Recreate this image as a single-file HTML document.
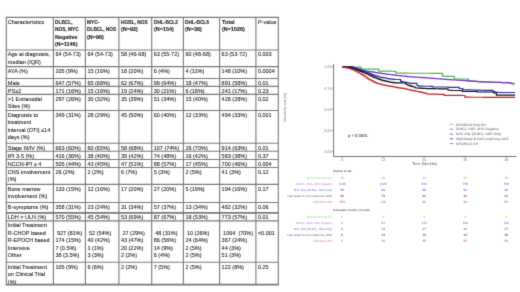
<!DOCTYPE html>
<html><head><meta charset="utf-8"><style>
html,body{margin:0;padding:0;background:#fff;}
body{width:520px;height:292px;position:relative;overflow:hidden;font-family:"Liberation Sans",sans-serif;}
.wrap{position:absolute;left:0;top:0;width:520px;height:292px;background:#fff;filter:url(#bl);}
.t{position:absolute;font-size:5.5px;line-height:7.5px;color:#1c1c1c;white-space:nowrap;-webkit-text-stroke:0.08px #1c1c1c;}
.b{font-weight:bold;transform-origin:0 0;-webkit-text-stroke:0.12px #1c1c1c;}
.vl{position:absolute;width:1px;background:#6a6a6a;}
.hl{position:absolute;height:1px;background:#6a6a6a;}
.ch{position:absolute;left:0;top:0;}
.ch text{font-family:"Liberation Sans",sans-serif;text-rendering:geometricPrecision;}
.tk{font-size:3.8px;fill:#808080;}
.pv{font-size:4.2px;fill:#111;}
.lg{font-size:3.3px;fill:#555;}
.rt{font-size:2.8px;fill:#222;}
.rl{font-size:2.8px;opacity:0.75;}
.rn{font-size:3.2px;font-weight:bold;opacity:0.7;}
</style></head><body>
<svg width="0" height="0" style="position:absolute"><filter id="bl" x="0" y="0" width="100%" height="100%" color-interpolation-filters="sRGB"><feConvolveMatrix order="3" kernelMatrix="0.0144 0.0912 0.0144 0.0912 0.5776 0.0912 0.0144 0.0912 0.0144" edgeMode="duplicate"/></filter></svg>
<div class="wrap">
<div class="t" style="left:7.8px;top:18.54px">Characteristics</div>
<div class="t b" style="left:55.4px;top:18.54px;transform:scaleX(0.87)">DLBCL,</div>
<div class="t b" style="left:55.4px;top:25.54px;transform:scaleX(0.87)">NOS, MYC</div>
<div class="t b" style="left:55.4px;top:33.54px;transform:scaleX(0.985)">Negative</div>
<div class="t b" style="left:55.4px;top:40.54px;transform:scaleX(0.985)">(N=1146)</div>
<div class="t b" style="left:87.4px;top:18.54px;transform:scaleX(0.87)">MYC-</div>
<div class="t b" style="left:87.4px;top:25.54px;transform:scaleX(0.87)">DLBCL, NOS</div>
<div class="t b" style="left:87.4px;top:33.54px;transform:scaleX(0.985)">(N=96)</div>
<div class="t b" style="left:120.9px;top:18.54px;transform:scaleX(0.87)">HGBL, NOS</div>
<div class="t b" style="left:120.9px;top:25.54px;transform:scaleX(0.985)">(N=92)</div>
<div class="t b" style="left:153.7px;top:18.54px;transform:scaleX(0.87)">DHL-BCL2</div>
<div class="t b" style="left:153.7px;top:25.54px;transform:scaleX(0.985)">(N=154)</div>
<div class="t b" style="left:185.4px;top:18.54px;transform:scaleX(0.87)">DHL-BCL6</div>
<div class="t b" style="left:185.4px;top:25.54px;transform:scaleX(0.985)">(N=38)</div>
<div class="t b" style="left:221.6px;top:18.54px;transform:scaleX(0.985)">Total</div>
<div class="t b" style="left:221.6px;top:25.54px;transform:scaleX(0.985)">(N=1526)</div>
<div class="t" style="left:257.9px;top:18.54px">P-value</div>
<div class="t" style="left:7.8px;top:50.54px">Age at diagnosis,</div>
<div class="t" style="left:7.8px;top:58.54px">median (IQR)</div>
<div class="t" style="left:55.4px;top:50.54px">64 (54-73)</div>
<div class="t" style="left:87.4px;top:50.54px">64 (54-73)</div>
<div class="t" style="left:120.9px;top:50.54px">58 (46-68)</div>
<div class="t" style="left:153.7px;top:50.54px">63 (55-72)</div>
<div class="t" style="left:185.4px;top:50.54px">60 (48-68)</div>
<div class="t" style="left:221.6px;top:50.54px">63 (53-72)</div>
<div class="t" style="left:257.9px;top:50.54px">0.003</div>
<div class="t" style="left:7.8px;top:67.54px">AYA (%)</div>
<div class="t" style="left:55.4px;top:67.54px">105 (9%)</div>
<div class="t" style="left:87.4px;top:67.54px">15 (16%)</div>
<div class="t" style="left:120.9px;top:67.54px">18 (20%)</div>
<div class="t" style="left:153.7px;top:67.54px">6 (4%)</div>
<div class="t" style="left:185.4px;top:67.54px">4 (11%)</div>
<div class="t" style="left:221.6px;top:67.54px">148 (10%)</div>
<div class="t" style="left:257.9px;top:67.54px">0.0004</div>
<div class="t" style="left:7.8px;top:79.54px">Male</div>
<div class="t" style="left:55.4px;top:79.54px">647 (57%)</div>
<div class="t" style="left:87.4px;top:79.54px">65 (68%)</div>
<div class="t" style="left:120.9px;top:79.54px">62 (67%)</div>
<div class="t" style="left:153.7px;top:79.54px">99 (64%)</div>
<div class="t" style="left:185.4px;top:79.54px">18 (47%)</div>
<div class="t" style="left:221.6px;top:79.54px">891 (58%)</div>
<div class="t" style="left:257.9px;top:79.54px">0.01</div>
<div class="t" style="left:7.8px;top:87.54px">PS≥2</div>
<div class="t" style="left:55.4px;top:87.54px">171 (16%)</div>
<div class="t" style="left:87.4px;top:87.54px">15 (16%)</div>
<div class="t" style="left:120.9px;top:87.54px">19 (24%)</div>
<div class="t" style="left:153.7px;top:87.54px">30 (21%)</div>
<div class="t" style="left:185.4px;top:87.54px">6 (18%)</div>
<div class="t" style="left:221.6px;top:87.54px">241 (17%)</div>
<div class="t" style="left:257.9px;top:87.54px">0.23</div>
<div class="t" style="left:7.8px;top:95.54px">&gt;1 Extranodal</div>
<div class="t" style="left:7.8px;top:102.54px">Sites (%)</div>
<div class="t" style="left:55.4px;top:95.54px">297 (26%)</div>
<div class="t" style="left:87.4px;top:95.54px">30 (32%)</div>
<div class="t" style="left:120.9px;top:95.54px">35 (39%)</div>
<div class="t" style="left:153.7px;top:95.54px">51 (34%)</div>
<div class="t" style="left:185.4px;top:95.54px">15 (40%)</div>
<div class="t" style="left:221.6px;top:95.54px">428 (28%)</div>
<div class="t" style="left:257.9px;top:95.54px">0.02</div>
<div class="t" style="left:7.8px;top:111.54px">Diagnosis to</div>
<div class="t" style="left:7.8px;top:118.54px">treatment</div>
<div class="t" style="left:7.8px;top:126.54px">interval (DTI) ≤14</div>
<div class="t" style="left:7.8px;top:133.54px">days (%)</div>
<div class="t" style="left:55.4px;top:111.54px">349 (31%)</div>
<div class="t" style="left:87.4px;top:111.54px">28 (29%)</div>
<div class="t" style="left:120.9px;top:111.54px">45 (50%)</div>
<div class="t" style="left:153.7px;top:111.54px">60 (40%)</div>
<div class="t" style="left:185.4px;top:111.54px">12 (33%)</div>
<div class="t" style="left:221.6px;top:111.54px">494 (33%)</div>
<div class="t" style="left:257.9px;top:111.54px">0.001</div>
<div class="t" style="left:7.8px;top:144.54px">Stage III/IV (%)</div>
<div class="t" style="left:55.4px;top:144.54px">663 (60%)</div>
<div class="t" style="left:87.4px;top:144.54px">60 (65%)</div>
<div class="t" style="left:120.9px;top:144.54px">58 (68%)</div>
<div class="t" style="left:153.7px;top:144.54px">107 (74%)</div>
<div class="t" style="left:185.4px;top:144.54px">26 (70%)</div>
<div class="t" style="left:221.6px;top:144.54px">914 (63%)</div>
<div class="t" style="left:257.9px;top:144.54px">0.01</div>
<div class="t" style="left:7.8px;top:152.54px">IPI 3-5 (%)</div>
<div class="t" style="left:55.4px;top:152.54px">416 (36%)</div>
<div class="t" style="left:87.4px;top:152.54px">38 (40%)</div>
<div class="t" style="left:120.9px;top:152.54px">39 (42%)</div>
<div class="t" style="left:153.7px;top:152.54px">74 (48%)</div>
<div class="t" style="left:185.4px;top:152.54px">16 (42%)</div>
<div class="t" style="left:221.6px;top:152.54px">583 (38%)</div>
<div class="t" style="left:257.9px;top:152.54px">0.37</div>
<div class="t" style="left:7.8px;top:160.54px">NCCN-IPI ≥ 4</div>
<div class="t" style="left:55.4px;top:160.54px">505 (44%)</div>
<div class="t" style="left:87.4px;top:160.54px">43 (45%)</div>
<div class="t" style="left:120.9px;top:160.54px">47 (51%)</div>
<div class="t" style="left:153.7px;top:160.54px">88 (57%)</div>
<div class="t" style="left:185.4px;top:160.54px">17 (45%)</div>
<div class="t" style="left:221.6px;top:160.54px">700 (46%)</div>
<div class="t" style="left:257.9px;top:160.54px">0.004</div>
<div class="t" style="left:7.8px;top:168.54px">CNS involvement</div>
<div class="t" style="left:7.8px;top:175.54px">(%)</div>
<div class="t" style="left:55.4px;top:168.54px">26 (2%)</div>
<div class="t" style="left:87.4px;top:168.54px">2 (2%)</div>
<div class="t" style="left:120.9px;top:168.54px">6 (7%)</div>
<div class="t" style="left:153.7px;top:168.54px">5 (3%)</div>
<div class="t" style="left:185.4px;top:168.54px">2 (5%)</div>
<div class="t" style="left:221.6px;top:168.54px">41 (3%)</div>
<div class="t" style="left:257.9px;top:168.54px">0.12</div>
<div class="t" style="left:7.8px;top:185.54px">Bone marrow</div>
<div class="t" style="left:7.8px;top:192.54px">involvement (%)</div>
<div class="t" style="left:55.4px;top:185.54px">133 (15%)</div>
<div class="t" style="left:87.4px;top:185.54px">12 (16%)</div>
<div class="t" style="left:120.9px;top:185.54px">17 (20%)</div>
<div class="t" style="left:153.7px;top:185.54px">27 (20%)</div>
<div class="t" style="left:185.4px;top:185.54px">5 (19%)</div>
<div class="t" style="left:221.6px;top:185.54px">194 (16%)</div>
<div class="t" style="left:257.9px;top:185.54px">0.17</div>
<div class="t" style="left:7.8px;top:203.54px">B-symptoms (%)</div>
<div class="t" style="left:55.4px;top:203.54px">358 (31%)</div>
<div class="t" style="left:87.4px;top:203.54px">23 (24%)</div>
<div class="t" style="left:120.9px;top:203.54px">31 (34%)</div>
<div class="t" style="left:153.7px;top:203.54px">57 (37%)</div>
<div class="t" style="left:185.4px;top:203.54px">13 (34%)</div>
<div class="t" style="left:221.6px;top:203.54px">482 (32%)</div>
<div class="t" style="left:257.9px;top:203.54px">0.06</div>
<div class="t" style="left:7.8px;top:213.54px">LDH &gt; ULN (%)</div>
<div class="t" style="left:55.4px;top:213.54px">570 (55%)</div>
<div class="t" style="left:87.4px;top:213.54px">45 (54%)</div>
<div class="t" style="left:120.9px;top:213.54px">53 (69%)</div>
<div class="t" style="left:153.7px;top:213.54px">87 (67%)</div>
<div class="t" style="left:185.4px;top:213.54px">18 (53%)</div>
<div class="t" style="left:221.6px;top:213.54px">773 (57%)</div>
<div class="t" style="left:257.9px;top:213.54px">0.01</div>
<div class="t" style="left:7.8px;top:221.54px">Initial Treatment</div>
<div class="t" style="left:7.8px;top:229.54px">R-CHOP based</div>
<div class="t" style="left:7.8px;top:236.54px">R-EPOCH based</div>
<div class="t" style="left:7.8px;top:244.54px">Intensive</div>
<div class="t" style="left:7.8px;top:251.54px">Other</div>
<div class="t" style="left:55.4px;top:229.54px"> 927 (81%)</div>
<div class="t" style="left:55.4px;top:236.54px">174 (15%)</div>
<div class="t" style="left:55.4px;top:244.54px">7 (0.5%)</div>
<div class="t" style="left:55.4px;top:251.54px">38 (3.5%)</div>
<div class="t" style="left:87.4px;top:229.54px"> 52 (54%)</div>
<div class="t" style="left:87.4px;top:236.54px">40 (42%)</div>
<div class="t" style="left:87.4px;top:244.54px">1 (1%)</div>
<div class="t" style="left:87.4px;top:251.54px">3 (3%)</div>
<div class="t" style="left:120.9px;top:229.54px"> 27 (29%)</div>
<div class="t" style="left:120.9px;top:236.54px">43 (47%)</div>
<div class="t" style="left:120.9px;top:244.54px">20 (22%)</div>
<div class="t" style="left:120.9px;top:251.54px">2 (2%)</div>
<div class="t" style="left:153.7px;top:229.54px"> 48 (31%)</div>
<div class="t" style="left:153.7px;top:236.54px">86 (56%)</div>
<div class="t" style="left:153.7px;top:244.54px">14 (9%)</div>
<div class="t" style="left:153.7px;top:251.54px">6 (4%)</div>
<div class="t" style="left:185.4px;top:229.54px"> 10 (26%)</div>
<div class="t" style="left:185.4px;top:236.54px">24 (64%)</div>
<div class="t" style="left:185.4px;top:244.54px">2 (5%)</div>
<div class="t" style="left:185.4px;top:251.54px">2 (5%)</div>
<div class="t" style="left:221.6px;top:229.54px"> 1064  (70%)</div>
<div class="t" style="left:221.6px;top:236.54px">367 (24%)</div>
<div class="t" style="left:221.6px;top:244.54px">44 (3%)</div>
<div class="t" style="left:221.6px;top:251.54px">51 (3%)</div>
<div class="t" style="left:257.9px;top:229.54px">&lt;0.001</div>
<div class="t" style="left:7.8px;top:263.54px">Initial Treatment</div>
<div class="t" style="left:7.8px;top:270.54px">on Clinical Trial</div>
<div class="t" style="left:7.8px;top:278.54px">(%)</div>
<div class="t" style="left:55.4px;top:263.54px">105 (9%)</div>
<div class="t" style="left:87.4px;top:263.54px">6 (6%)</div>
<div class="t" style="left:120.9px;top:263.54px">2 (2%)</div>
<div class="t" style="left:153.7px;top:263.54px">7 (5%)</div>
<div class="t" style="left:185.4px;top:263.54px">2 (5%)</div>
<div class="t" style="left:221.6px;top:263.54px">122 (8%)</div>
<div class="t" style="left:257.9px;top:263.54px">0.25</div>
<svg class="ch" width="520" height="292" viewBox="0 0 520 292"><g stroke="#7a7a7a" stroke-width="1.1"><line x1="6.30" y1="16.90" x2="6.30" y2="285.10"/><line x1="53.40" y1="16.90" x2="53.40" y2="285.10"/><line x1="85.40" y1="16.90" x2="85.40" y2="285.10"/><line x1="118.90" y1="16.90" x2="118.90" y2="285.10"/><line x1="151.70" y1="16.90" x2="151.70" y2="285.10"/><line x1="183.40" y1="16.90" x2="183.40" y2="285.10"/><line x1="219.60" y1="16.90" x2="219.60" y2="285.10"/><line x1="255.90" y1="16.90" x2="255.90" y2="285.10"/><line x1="278.30" y1="16.90" x2="278.30" y2="285.10"/><line x1="5.80" y1="17.40" x2="278.80" y2="17.40"/><line x1="5.80" y1="50.00" x2="278.80" y2="50.00"/><line x1="5.80" y1="66.60" x2="278.80" y2="66.60"/><line x1="5.80" y1="78.50" x2="278.80" y2="78.50"/><line x1="5.80" y1="86.40" x2="278.80" y2="86.40"/><line x1="5.80" y1="94.40" x2="278.80" y2="94.40"/><line x1="5.80" y1="110.50" x2="278.80" y2="110.50"/><line x1="5.80" y1="143.30" x2="278.80" y2="143.30"/><line x1="5.80" y1="151.30" x2="278.80" y2="151.30"/><line x1="5.80" y1="159.50" x2="278.80" y2="159.50"/><line x1="5.80" y1="167.50" x2="278.80" y2="167.50"/><line x1="5.80" y1="184.40" x2="278.80" y2="184.40"/><line x1="5.80" y1="202.50" x2="278.80" y2="202.50"/><line x1="5.80" y1="212.90" x2="278.80" y2="212.90" stroke-width="1.9"/><line x1="5.80" y1="220.90" x2="278.80" y2="220.90"/><line x1="5.80" y1="262.30" x2="278.80" y2="262.30"/><line x1="5.80" y1="284.60" x2="278.80" y2="284.60" stroke-width="1.6"/></g></svg>
<svg class="ch" width="520" height="292" viewBox="0 0 520 292"><line x1="333.6" y1="64" x2="333.6" y2="156.5" stroke="#505050" stroke-width="0.8"/>
<line x1="333.3" y1="156.5" x2="516.5" y2="156.5" stroke="#505050" stroke-width="0.8"/>
<line x1="332" y1="66.80" x2="333.6" y2="66.80" stroke="#555" stroke-width="0.6"/>
<text x="331.6" y="68.40" class="tk" text-anchor="end">1.00</text>
<line x1="332" y1="88.02" x2="333.6" y2="88.02" stroke="#555" stroke-width="0.6"/>
<text x="331.6" y="89.62" class="tk" text-anchor="end">0.75</text>
<line x1="332" y1="109.25" x2="333.6" y2="109.25" stroke="#555" stroke-width="0.6"/>
<text x="331.6" y="110.85" class="tk" text-anchor="end">0.50</text>
<line x1="332" y1="130.47" x2="333.6" y2="130.47" stroke="#555" stroke-width="0.6"/>
<text x="331.6" y="132.07" class="tk" text-anchor="end">0.25</text>
<line x1="332" y1="151.70" x2="333.6" y2="151.70" stroke="#555" stroke-width="0.6"/>
<text x="331.6" y="153.30" class="tk" text-anchor="end">0.00</text>
<line x1="342.20" y1="156.5" x2="342.20" y2="158" stroke="#555" stroke-width="0.6"/>
<text x="342.20" y="160.6" class="tk" text-anchor="middle">0</text>
<line x1="383.24" y1="156.5" x2="383.24" y2="158" stroke="#555" stroke-width="0.6"/>
<text x="383.24" y="160.6" class="tk" text-anchor="middle">12</text>
<line x1="424.28" y1="156.5" x2="424.28" y2="158" stroke="#555" stroke-width="0.6"/>
<text x="424.28" y="160.6" class="tk" text-anchor="middle">24</text>
<line x1="465.32" y1="156.5" x2="465.32" y2="158" stroke="#555" stroke-width="0.6"/>
<text x="465.32" y="160.6" class="tk" text-anchor="middle">36</text>
<line x1="506.36" y1="156.5" x2="506.36" y2="158" stroke="#555" stroke-width="0.6"/>
<text x="506.36" y="160.6" class="tk" text-anchor="middle">48</text>
<text x="424.6" y="164.9" text-anchor="middle" style="font-size:3.9px;fill:#555">Time (Months)</text>
<text transform="translate(285.7 107.4) rotate(-90)" text-anchor="middle" style="fill:#666;font-size:3.3px">Overall Survival (%)</text>
<text x="348" y="136.8" class="pv">p &lt; 0.0001</text>
<path d="M342.40,66.80H343.25V66.84H344.11H344.96V66.87H345.82H346.67V66.91H347.53H348.38V66.95H349.24H350.09V66.98H350.95H351.80V67.02H352.65H353.51V67.05H354.36H355.22V67.09H356.07H356.93V67.13H357.78H358.64V67.16H359.49H360.35V67.20H361.20L361.20,69.00H362.07V69.02H362.94H363.81V69.04H364.68H365.55V69.06H366.42H367.29V69.08H368.16H369.03V69.10H369.90H370.77V69.12H371.64H372.51V69.14H373.38H374.25V69.16H375.12H375.99V69.18H376.86H377.73V69.20H378.60L378.60,71.00H379.46V71.03H380.31H381.17V71.06H382.02H382.88V71.09H383.73H384.59V71.12H385.44H386.29V71.15H387.15H388.00V71.18H388.86H389.72V71.21H390.57H391.42V71.24H392.28H393.13V71.27H393.99H394.85V71.30H395.70L395.70,73.20H396.51V73.20H397.31H398.12V73.21H398.93H399.73V73.21H400.54H401.35V73.21H402.16H402.96V73.22H403.77H404.58V73.22H405.38H406.19V73.22H407.00H407.80V73.23H408.61H409.42V73.23H410.22H411.03V73.23H411.84H412.64V73.24H413.45H414.26V73.24H415.07H415.87V73.24H416.68H417.49V73.25H418.29H419.10V73.25H419.91H420.71V73.26H421.52H422.33V73.26H423.13H423.94V73.26H424.75H425.56V73.27H426.36H427.17V73.27H427.98H428.78V73.27H429.59H430.40V73.28H431.20H432.01V73.28H432.82H433.62V73.28H434.43H435.24V73.29H436.04H436.85V73.29H437.66H438.47V73.29H439.27H440.08V73.30H440.89H441.69V73.30H442.50L442.50,76.20H443.34V76.24H444.19H445.03V76.29H445.87H446.71V76.33H447.56H448.40V76.37H449.24H450.09V76.41H450.93H451.77V76.46H452.61H453.46V76.50H454.30L454.30,79.00L468.40,79.00L468.40,80.80H469.25V80.92H470.10H470.95V81.05H471.80H472.65V81.17H473.50H474.35V81.30H475.20H476.05V81.42H476.90H477.75V81.55H478.60H479.45V81.67H480.30H481.15V81.80H482.00H482.81V81.86H483.62H484.44V81.92H485.25H486.06V81.99H486.88H487.69V82.05H488.50H489.31V82.11H490.12H490.94V82.17H491.75H492.56V82.24H493.38H494.19V82.30H495.00H495.81V82.35H496.62H497.44V82.40H498.25H499.06V82.45H499.88H500.69V82.50H501.50H502.31V82.55H503.12H503.94V82.60H504.75H505.56V82.65H506.38H507.19V82.70H508.00H509.00V83.00H510.00H511.00V83.30H512.00" fill="none" stroke="#4cb84c" stroke-width="1.2"/>
<path d="M342.40,66.80H343.22V66.83H344.05H344.88V66.87H345.70H346.52V66.90H347.35H348.18V66.93H349.00H349.82V66.97H350.65H351.48V67.00H352.30H353.25V67.50H354.20H355.15V68.00H356.10H357.05V68.50H358.00H358.80V69.00H359.60H360.40V69.50H361.20H362.00V70.00H362.80H363.60V70.50H364.40H365.20V71.00H366.00H366.80V71.24H367.60H368.40V71.48H369.20H370.00V71.72H370.80H371.60V71.96H372.40H373.20V72.20H374.00H375.00V72.53H376.00H377.00V72.87H378.00H379.00V73.20H380.00H380.83V73.42H381.67H382.50V73.63H383.33H384.17V73.85H385.00H385.83V74.07H386.67H387.50V74.28H388.33H389.17V74.50H390.00H390.80V74.70H391.60H392.40V74.90H393.20H394.00V75.10H394.80H395.60V75.30H396.40H397.20V75.50H398.00H398.86V75.67H399.71H400.57V75.84H401.43H402.29V76.01H403.14H404.00V76.19H404.86H405.71V76.36H406.57H407.43V76.53H408.29H409.14V76.70H410.00H410.80V76.81H411.60H412.40V76.92H413.20H414.00V77.03H414.80H415.60V77.14H416.40H417.20V77.25H418.00H418.80V77.36H419.60H420.40V77.47H421.20H422.00V77.58H422.80H423.60V77.69H424.40H425.20V77.80H426.00H426.88V77.94H427.75H428.62V78.08H429.50H430.38V78.21H431.25H432.12V78.35H433.00H433.88V78.49H434.75H435.62V78.62H436.50H437.38V78.76H438.25H439.12V78.90H440.00H440.88V79.03H441.75H442.62V79.15H443.50H444.38V79.28H445.25H446.12V79.40H447.00H447.88V79.53H448.75H449.62V79.65H450.50H451.38V79.78H452.25H453.12V79.90H454.00H454.88V80.01H455.75H456.62V80.12H457.50H458.38V80.24H459.25H460.12V80.35H461.00H461.88V80.46H462.75H463.62V80.58H464.50H465.38V80.69H466.25H467.12V80.80H468.00H468.88V80.92H469.75H470.62V81.05H471.50H472.38V81.17H473.25H474.12V81.30H475.00H475.88V81.42H476.75H477.62V81.55H478.50H479.38V81.67H480.25H481.12V81.80H482.00H482.81V81.86H483.62H484.44V81.92H485.25H486.06V81.99H486.88H487.69V82.05H488.50H489.31V82.11H490.12H490.94V82.17H491.75H492.56V82.24H493.38H494.19V82.30H495.00H495.81V82.35H496.62H497.44V82.40H498.25H499.06V82.45H499.88H500.69V82.50H501.50H502.31V82.55H503.12H503.94V82.60H504.75H505.56V82.65H506.38H507.19V82.70H508.00H509.00V83.00H510.00H511.00V83.30H512.00H513.50V83.50H515.00" fill="none" stroke="#7f32cc" stroke-width="1.2"/>
<path d="M342.40,66.80H343.20V66.87H344.00H344.80V66.93H345.60H346.40V67.00H347.20H348.00V67.07H348.80H349.60V67.13H350.40H351.20V67.20H352.00H353.00V67.90H354.00H355.00V68.60H356.00H357.00V69.30H358.00H358.80V69.80H359.60H360.40V70.30H361.20H362.00V70.80H362.80H363.60V71.30H364.40H365.20V71.80H366.00H366.80V72.50H367.60H368.40V73.20H369.20H370.00V73.90H370.80H371.60V74.60H372.40H373.20V75.30H374.00H375.00V75.87H376.00H377.00V76.43H378.00H379.00V77.00H380.00H380.83V77.32H381.67H382.50V77.63H383.33H384.17V77.95H385.00H385.83V78.27H386.67H387.50V78.58H388.33H389.17V78.90H390.00H391.00V79.10H392.00H393.00V79.30H394.00H395.00V79.50H396.00L400.60,79.50L400.60,81.20H401.50V81.60H402.40H403.30V82.00H404.20H405.10V82.40H406.00H407.00V82.73H408.00H409.00V83.07H410.00H411.00V83.40H412.00L417.00,83.40L417.00,85.50H418.50V86.20H420.00H420.91V86.21H421.81H422.72V86.23H423.63H424.54V86.24H425.44H426.35V86.26H427.26H428.16V86.27H429.07H429.98V86.29H430.89H431.79V86.30H432.70L432.70,87.00L448.00,87.00L448.00,87.40L459.20,87.40L459.20,88.50L462.80,88.50L462.80,89.70H463.66V89.75H464.52H465.38V89.80H466.24H467.10V89.85H467.96H468.82V89.90H469.68H470.54V89.95H471.40H472.26V90.00H473.12H473.98V90.05H474.84H475.70V90.10H476.56H477.42V90.15H478.28H479.14V90.20H480.00H480.80V90.23H481.60H482.40V90.25H483.20H484.00V90.28H484.80H485.60V90.30H486.40H487.20V90.33H488.00H488.80V90.35H489.60H490.40V90.38H491.20H492.00V90.40H492.80L492.80,91.70H493.75V91.97H494.70H495.65V92.23H496.60H497.55V92.50H498.50L515.00,92.50" fill="none" stroke="#2e2ea2" stroke-width="1.2"/>
<path d="M342.40,66.80H343.35V66.90H344.30H345.25V67.00H346.20H347.15V67.10H348.10H349.05V67.20H350.00H350.80V67.80H351.60H352.40V68.40H353.20H354.00V69.00H354.80H355.60V69.60H356.40H357.20V70.20H358.00H358.80V70.84H359.60H360.40V71.48H361.20H362.00V72.12H362.80H363.60V72.76H364.40H365.20V73.40H366.00H367.00V74.25H368.00H369.00V75.10H370.00H371.00V76.15H372.00H373.00V77.20H374.00H375.00V77.95H376.00H377.00V78.70H378.00H379.00V79.45H380.00H381.00V80.20H382.00H382.80V80.56H383.60H384.40V80.92H385.20H386.00V81.28H386.80H387.60V81.64H388.40H389.20V82.00H390.00H391.00V82.30H392.00H393.00V82.60H394.00H395.00V82.90H396.00H396.87V82.92H397.74H398.61V82.94H399.48H400.35V82.96H401.22H402.09V82.98H402.96H403.83V83.00H404.70H405.52V84.00H406.35H407.18V85.00H408.00H409.00V85.67H410.00H411.00V86.33H412.00H413.00V87.00H414.00H415.50V88.00H417.00H417.90V88.10H418.80H419.70V88.20H420.60H421.50V88.30H422.40H423.30V88.40H424.20H425.10V88.50H426.00H426.85V88.54H427.69H428.54V88.58H429.38H430.23V88.62H431.08H431.92V88.65H432.77H433.62V88.69H434.46H435.31V88.73H436.15H437.00V88.77H437.85H438.69V88.81H439.54H440.38V88.85H441.23H442.08V88.88H442.92H443.77V88.92H444.62H445.46V88.96H446.31H447.15V89.00H448.00L448.00,90.00H449.00V90.25H450.00H451.00V90.50H452.00L462.30,90.50L462.30,91.50L477.00,91.50L477.00,92.00L493.90,92.00L493.90,93.00L496.40,93.00L496.40,95.10L515.00,95.10" fill="none" stroke="#111" stroke-width="1.2"/>
<path d="M342.40,66.80H343.50V67.30H344.60H345.70V67.80H346.80H348.40V68.50H350.00H351.25V69.30H352.50H353.42V70.27H354.33H355.25V71.23H356.17H357.08V72.20H358.00H359.00V73.25H360.00H361.00V74.30H362.00H363.00V75.65H364.00H365.00V77.00H366.00H367.00V78.30H368.00H369.00V79.60H370.00H371.00V80.70H372.00H373.00V81.80H374.00H375.00V82.65H376.00H377.00V83.50H378.00H378.88V83.92H379.75H380.62V84.35H381.50H382.38V84.78H383.25H384.12V85.20H385.00H385.83V85.50H386.67H387.50V85.80H388.33H389.17V86.10H390.00H390.80V86.40H391.60H392.40V86.70H393.20H394.00V87.00H394.80H395.60V87.30H396.40H397.20V87.60H398.00H398.88V87.85H399.75H400.62V88.10H401.50H402.38V88.35H403.25H404.12V88.60H405.00H405.88V89.05H406.75H407.62V89.50H408.50H409.38V89.95H410.25H411.12V90.40H412.00H412.80V90.68H413.60H414.40V90.96H415.20H416.00V91.24H416.80H417.60V91.52H418.40H419.20V91.80H420.00H421.00V92.33H422.00H423.00V92.87H424.00H425.00V93.40H426.00H427.00V94.00H428.00H428.80V94.04H429.60H430.40V94.08H431.20H432.00V94.12H432.80H433.60V94.16H434.40H435.20V94.20H436.00H436.80V94.24H437.60H438.40V94.28H439.20H440.00V94.32H440.80H441.60V94.36H442.40H443.20V94.40H444.00L444.00,95.30H444.80V95.32H445.60H446.40V95.33H447.20H448.00V95.35H448.80H449.60V95.36H450.40H451.20V95.38H452.00H452.80V95.39H453.60H454.40V95.41H455.20H456.00V95.42H456.80H457.60V95.44H458.40H459.20V95.45H460.00H460.80V95.47H461.60H462.40V95.48H463.20H464.00V95.50H464.80L464.80,97.20H465.61V97.21H466.42H467.23V97.21H468.04H468.85V97.22H469.66H470.47V97.23H471.28H472.09V97.23H472.90H473.71V97.24H474.52H475.33V97.25H476.14H476.95V97.25H477.75H478.56V97.26H479.37H480.18V97.26H480.99H481.80V97.27H482.61H483.42V97.28H484.23H485.04V97.28H485.85H486.66V97.29H487.47H488.28V97.30H489.09H489.90V97.30H490.71H491.52V97.31H492.33H493.14V97.32H493.95H494.76V97.32H495.57H496.38V97.33H497.19H498.00V97.34H498.81H499.62V97.34H500.43H501.24V97.35H502.05H502.85V97.35H503.66H504.47V97.36H505.28H506.09V97.37H506.90H507.71V97.37H508.52H509.33V97.38H510.14H510.95V97.39H511.76H512.57V97.39H513.38H514.19V97.40H515.00" fill="none" stroke="#c42626" stroke-width="1.2"/>
<path d="M512.9,82.8V85.6M511.6,84.2H514.2" stroke="#60cc60" stroke-width="0.7" fill="none"/>
<line x1="449.7" y1="124.40" x2="453.2" y2="124.40" stroke="#60cc60" stroke-width="0.7"/>
<text x="455.9" y="125.50" class="lg">MYC/BCL6 Only DH</text>
<line x1="449.7" y1="129.20" x2="453.2" y2="129.20" stroke="#9040d8" stroke-width="0.7"/>
<text x="455.9" y="130.30" class="lg">DLBCL, NOS, MYC Negative</text>
<line x1="449.7" y1="134.10" x2="453.2" y2="134.10" stroke="#3838b0" stroke-width="0.7"/>
<text x="455.9" y="135.20" class="lg">MYC Only (DLBCL, NOS Only)</text>
<line x1="449.7" y1="138.90" x2="453.2" y2="138.90" stroke="#222" stroke-width="0.7"/>
<text x="455.9" y="140.00" class="lg">High Grade B-Cell Lymphoma, NOS</text>
<line x1="449.7" y1="143.60" x2="453.2" y2="143.60" stroke="#cc3c3c" stroke-width="0.7"/>
<text x="455.9" y="144.70" class="lg">MYC/BCL2 DH</text>
<text x="333.3" y="171.8" class="rt">Number at risk</text>
<text x="333.3" y="210.6" class="rt">Cumulative number of events</text>
<text x="332.2" y="179.20" class="rl" text-anchor="end" style="fill:#60cc60">MYC/BCL6 Only DH</text>
<text x="342.20" y="179.30" class="rn" text-anchor="middle" style="fill:#60cc60">38</text>
<text x="383.24" y="179.30" class="rn" text-anchor="middle" style="fill:#60cc60">36</text>
<text x="424.28" y="179.30" class="rn" text-anchor="middle" style="fill:#60cc60">24</text>
<text x="465.32" y="179.30" class="rn" text-anchor="middle" style="fill:#60cc60">16</text>
<text x="506.36" y="179.30" class="rn" text-anchor="middle" style="fill:#60cc60">16</text>
<text x="332.2" y="185.00" class="rl" text-anchor="end" style="fill:#9040d8">DLBCL, NOS, MYC Negative</text>
<text x="342.20" y="185.10" class="rn" text-anchor="middle" style="fill:#9040d8">1146</text>
<text x="383.24" y="185.10" class="rn" text-anchor="middle" style="fill:#9040d8">1022</text>
<text x="424.28" y="185.10" class="rn" text-anchor="middle" style="fill:#9040d8">928</text>
<text x="465.32" y="185.10" class="rn" text-anchor="middle" style="fill:#9040d8">756</text>
<text x="506.36" y="185.10" class="rn" text-anchor="middle" style="fill:#9040d8">549</text>
<text x="332.2" y="191.00" class="rl" text-anchor="end" style="fill:#3838b0">MYC Only (DLBCL, NOS Only)</text>
<text x="342.20" y="191.10" class="rn" text-anchor="middle" style="fill:#3838b0">96</text>
<text x="383.24" y="191.10" class="rn" text-anchor="middle" style="fill:#3838b0">83</text>
<text x="424.28" y="191.10" class="rn" text-anchor="middle" style="fill:#3838b0">69</text>
<text x="465.32" y="191.10" class="rn" text-anchor="middle" style="fill:#3838b0">61</text>
<text x="506.36" y="191.10" class="rn" text-anchor="middle" style="fill:#3838b0">48</text>
<text x="332.2" y="196.90" class="rl" text-anchor="end" style="fill:#222">High Grade B-Cell Lymphoma, NOS</text>
<text x="342.20" y="197.00" class="rn" text-anchor="middle" style="fill:#222">92</text>
<text x="383.24" y="197.00" class="rn" text-anchor="middle" style="fill:#222">73</text>
<text x="424.28" y="197.00" class="rn" text-anchor="middle" style="fill:#222">60</text>
<text x="465.32" y="197.00" class="rn" text-anchor="middle" style="fill:#222">41</text>
<text x="506.36" y="197.00" class="rn" text-anchor="middle" style="fill:#222">31</text>
<text x="332.2" y="202.70" class="rl" text-anchor="end" style="fill:#cc3c3c">MYC/BCL2 DH</text>
<text x="342.20" y="202.80" class="rn" text-anchor="middle" style="fill:#cc3c3c">154</text>
<text x="383.24" y="202.80" class="rn" text-anchor="middle" style="fill:#cc3c3c">118</text>
<text x="424.28" y="202.80" class="rn" text-anchor="middle" style="fill:#cc3c3c">99</text>
<text x="465.32" y="202.80" class="rn" text-anchor="middle" style="fill:#cc3c3c">80</text>
<text x="506.36" y="202.80" class="rn" text-anchor="middle" style="fill:#cc3c3c">52</text>
<text x="332.2" y="218.30" class="rl" text-anchor="end" style="fill:#60cc60">MYC/BCL6 Only DH</text>
<text x="342.20" y="218.40" class="rn" text-anchor="middle" style="fill:#60cc60">0</text>
<text x="383.24" y="218.40" class="rn" text-anchor="middle" style="fill:#60cc60">2</text>
<text x="424.28" y="218.40" class="rn" text-anchor="middle" style="fill:#60cc60">3</text>
<text x="465.32" y="218.40" class="rn" text-anchor="middle" style="fill:#60cc60">3</text>
<text x="506.36" y="218.40" class="rn" text-anchor="middle" style="fill:#60cc60">3</text>
<text x="332.2" y="224.20" class="rl" text-anchor="end" style="fill:#9040d8">DLBCL, NOS, MYC Negative</text>
<text x="342.20" y="224.30" class="rn" text-anchor="middle" style="fill:#9040d8">0</text>
<text x="383.24" y="224.30" class="rn" text-anchor="middle" style="fill:#9040d8">81</text>
<text x="424.28" y="224.30" class="rn" text-anchor="middle" style="fill:#9040d8">141</text>
<text x="465.32" y="224.30" class="rn" text-anchor="middle" style="fill:#9040d8">166</text>
<text x="506.36" y="224.30" class="rn" text-anchor="middle" style="fill:#9040d8">232</text>
<text x="332.2" y="230.00" class="rl" text-anchor="end" style="fill:#3838b0">MYC Only (DLBCL, NOS Only)</text>
<text x="342.20" y="230.10" class="rn" text-anchor="middle" style="fill:#3838b0">0</text>
<text x="383.24" y="230.10" class="rn" text-anchor="middle" style="fill:#3838b0">13</text>
<text x="424.28" y="230.10" class="rn" text-anchor="middle" style="fill:#3838b0">27</text>
<text x="465.32" y="230.10" class="rn" text-anchor="middle" style="fill:#3838b0">24</text>
<text x="506.36" y="230.10" class="rn" text-anchor="middle" style="fill:#3838b0">27</text>
<text x="332.2" y="235.90" class="rl" text-anchor="end" style="fill:#222">High Grade B-Cell Lymphoma, NOS</text>
<text x="342.20" y="236.00" class="rn" text-anchor="middle" style="fill:#222">0</text>
<text x="383.24" y="236.00" class="rn" text-anchor="middle" style="fill:#222">14</text>
<text x="424.28" y="236.00" class="rn" text-anchor="middle" style="fill:#222">20</text>
<text x="465.32" y="236.00" class="rn" text-anchor="middle" style="fill:#222">24</text>
<text x="506.36" y="236.00" class="rn" text-anchor="middle" style="fill:#222">26</text>
<text x="332.2" y="241.80" class="rl" text-anchor="end" style="fill:#cc3c3c">MYC/BCL2 DH</text>
<text x="342.20" y="241.90" class="rn" text-anchor="middle" style="fill:#cc3c3c">0</text>
<text x="383.24" y="241.90" class="rn" text-anchor="middle" style="fill:#cc3c3c">20</text>
<text x="424.28" y="241.90" class="rn" text-anchor="middle" style="fill:#cc3c3c">45</text>
<text x="465.32" y="241.90" class="rn" text-anchor="middle" style="fill:#cc3c3c">50</text>
<text x="506.36" y="241.90" class="rn" text-anchor="middle" style="fill:#cc3c3c">55</text></svg>
</div>
</body></html>
